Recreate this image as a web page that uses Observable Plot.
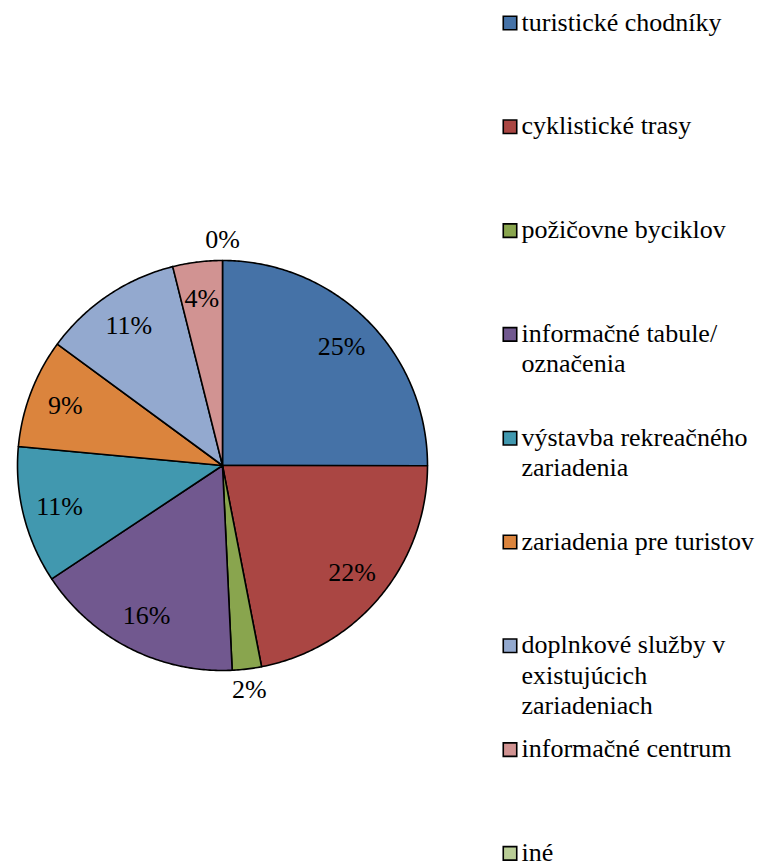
<!DOCTYPE html>
<html>
<head>
<meta charset="utf-8">
<script src="https://cdn.jsdelivr.net/npm/d3@7"></script>
<script src="https://cdn.jsdelivr.net/npm/@observablehq/plot@0.6"></script>
<style>
  html, body { margin: 0; padding: 0; background: #fff; }
  #chart svg text { font-family: 'Liberation Serif', Tinos, 'Times New Roman', serif; }
</style>
</head>
<body>
<div id="chart"></div>
<script>
const categories = [
  "turistické chodníky",
  "cyklistické trasy",
  "požičovne byciklov",
  "informačné tabule/ označenia",
  "výstavba rekreačného zariadenia",
  "zariadenia pre turistov",
  "doplnkové služby v existujúcich zariadeniach",
  "informačné centrum",
  "iné"
];
const legendLines = [
  ["turistické chodníky"],
  ["cyklistické trasy"],
  ["požičovne byciklov"],
  ["informačné tabule/", "označenia"],
  ["výstavba rekreačného", "zariadenia"],
  ["zariadenia pre turistov"],
  ["doplnkové služby v", "existujúcich", "zariadeniach"],
  ["informačné centrum"],
  ["iné"]
];
const values = [25.0, 21.9, 2.3, 16.4, 10.8, 8.6, 11.0, 3.9, 0];
const colors = ["#4572A7", "#AA4643", "#89A54E", "#71588F", "#4198AF", "#DB843D", "#93A9CF", "#D19392", "#B9CD96"];

const total = d3.sum(values);
const arcs = d3.pie().sort(null).startAngle(0).endAngle(2 * Math.PI)(values);

// slice outlines (unit circle, y up)
const slicePts = [];
arcs.forEach((a, i) => {
  if (a.endAngle - a.startAngle <= 0) return;
  slicePts.push({name: categories[i], color: colors[i], x: 0, y: 0});
  const n = Math.max(2, Math.ceil((a.endAngle - a.startAngle) / 0.01));
  for (let k = 0; k <= n; k++) {
    const t = a.startAngle + (a.endAngle - a.startAngle) * k / n;
    slicePts.push({name: categories[i], color: colors[i], x: Math.sin(t), y: Math.cos(t)});
  }
  slicePts.push({name: categories[i], color: colors[i], x: 0, y: 0});
});

const labels = arcs.map((a, i) => {
  const mid = (a.startAngle + a.endAngle) / 2;
  const share = values[i] / total;
  const r = share < 0.03 ? 1.1 : 0.82;
  return {x: Math.sin(mid) * r, y: Math.cos(mid) * r, text: d3.format(".0%")(share)};
});

const cx = 222, cy = 465, R = 205;
const toX = px => (px - cx) / R;
const toY = py => (cy - py) / R;

// legend layout: first-line centre of each entry, evenly spaced
const legendRows = legendLines.map((lines, i) => {
  const c = 22 + i * 103.8;
  return {
    color: colors[i],
    text: lines.join("\n"),
    sx: toX(509.5), sy: toY(c + 0.5),
    tx: toX(521), ty: toY(c - 13.5)
  };
});

const chart = Plot.plot({
  width: 763,
  height: 863,
  margin: 0,
  x: {domain: [-1, 1], range: [cx - R, cx + R], axis: null},
  y: {domain: [-1, 1], range: [cy + R, cy - R], axis: null},
  color: {type: "identity"},
  style: {background: "white", fontFamily: "'Liberation Serif', Tinos, 'Times New Roman', serif"},
  marks: [
    Plot.line(slicePts, {x: "x", y: "y", z: "name", fill: "color", stroke: "#000", strokeWidth: 1.6, strokeLinejoin: "round"}),
    Plot.text(labels, {x: "x", y: "y", text: "text", fontSize: 26, fill: "#000"}),
    Plot.dot(legendRows, {x: "sx", y: "sy", symbol: "square", r: 7.6, fill: "color", stroke: "#000", strokeWidth: 1.6}),
    Plot.text(legendRows, {x: "tx", y: "ty", text: "text", fontSize: 26, fill: "#000", textAnchor: "start", lineAnchor: "top", lineHeight: 1.17})
  ]
});
document.getElementById("chart").appendChild(chart);
</script>
</body>
</html>
